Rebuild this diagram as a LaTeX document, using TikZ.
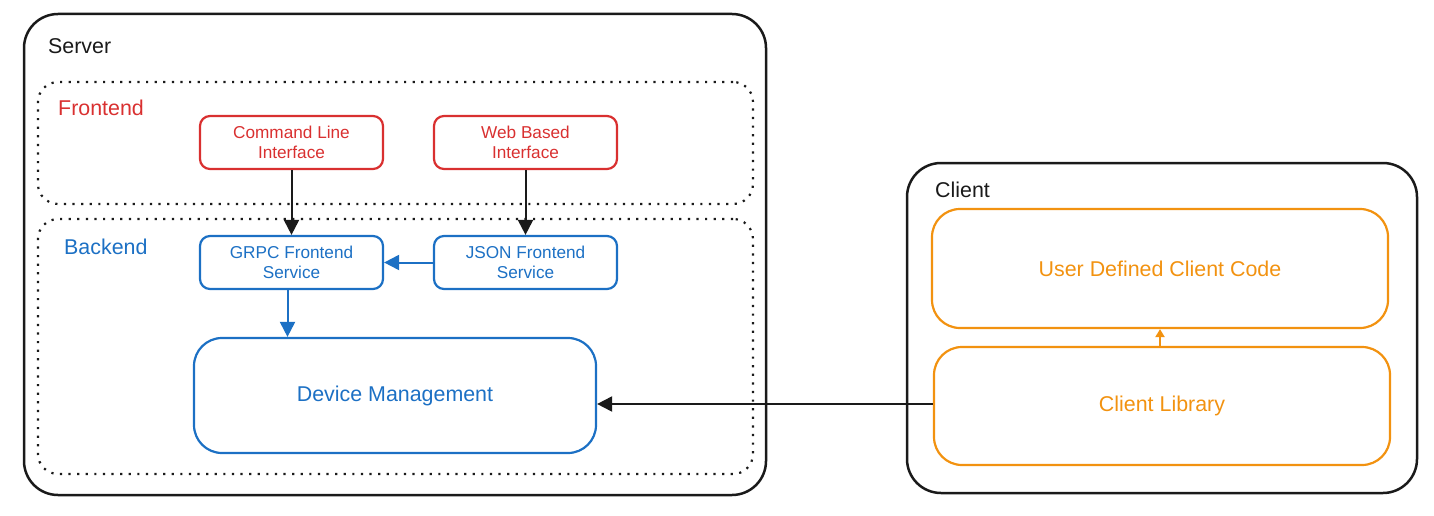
\documentclass[tikz,border=0pt]{standalone}
\usepackage{fontspec}
\setmainfont{Liberation Sans}
\definecolor{srvblack}{RGB}{26, 26, 26}
\definecolor{frontred}{RGB}{217, 48, 48}
\definecolor{backblue}{RGB}{28, 112, 196}
\definecolor{clientorange}{RGB}{242, 146, 16}
\usetikzlibrary{
    arrows.meta,
    positioning,
    calc
}
\tikzset{
    container/.style={draw=srvblack, line width=2.5pt, rounded corners=34pt, inner sep=0pt},
    layer/.style={draw=srvblack, line width=2.2pt, dash pattern=on 2.2pt off 6.4pt, rounded corners=20pt, inner sep=0pt},
    smallbox/.style={line width=2.2pt, rounded corners=10pt, minimum width=183pt, minimum height=53pt,
        inner sep=0pt, align=center, font=\fontsize{17.2}{20}\selectfont},
    bigbox/.style={line width=2.2pt, rounded corners=28pt, inner sep=0pt, font=\fontsize{21.4}{25}\selectfont},
    title/.style={anchor=west, inner sep=0pt, font=\fontsize{21.4}{25}\selectfont},
    link/.style={line width=2pt, -{Triangle[length=15pt, width=15pt]}}
}

\begin{document}
\begin{tikzpicture}[x=1pt, y=-1pt]
    \useasboundingbox (0,0) rectangle (1434,516);

    % Server side
    \node[container, minimum width=742pt, minimum height=481pt] (server) at (395,254.5) {};
    \node[title, text=srvblack] (serverlabel) at (48,46) {Server};
    \node[layer, minimum width=715pt, minimum height=122pt] (frontend) at (395.5,143) {};
    \node[layer, minimum width=715pt, minimum height=255pt] (backend) at (395.5,346.5) {};
    \node[title, text=frontred] (frontendlabel) at (58,108) {Frontend};
    \node[title, text=backblue] (backendlabel) at (64,247) {Backend};

    % Frontend
    \node[smallbox, draw=frontred, text=frontred] (cli) at (291.5,142.5) {Command Line\\Interface};
    \node[smallbox, draw=frontred, text=frontred] (web) at (525.5,142.5) {Web Based\\Interface};

    % Backend
    \node[smallbox, draw=backblue, text=backblue] (grpc) at (291.5,262.5) {GRPC Frontend\\Service};
    \node[smallbox, draw=backblue, text=backblue] (json) at (525.5,262.5) {JSON Frontend\\Service};
    \node[bigbox, draw=backblue, text=backblue, minimum width=402pt, minimum height=115pt] (dm) at (395,395.5) {Device Management};
    \coordinate (grpcout) at ($(grpc.south)+(-4,0)$);

    % Client side
    \node[container, minimum width=510pt, minimum height=330pt] (client) at (1162,328) {};
    \node[title, text=srvblack] (clientlabel) at (935,190) {Client};
    \node[bigbox, draw=clientorange, text=clientorange, minimum width=456pt, minimum height=119pt] (userdef) at (1160,268.5) {User Defined Client Code};
    \node[bigbox, draw=clientorange, text=clientorange, minimum width=456pt, minimum height=118pt] (lib) at (1162,406) {Client Library};
    \coordinate (libout) at ($(lib.west)+(0,-2)$);

    % Connections
    \draw[link, srvblack] (cli) -- (grpc);
    \draw[link, srvblack] (web) -- (json);
    \draw[link, backblue] (json) -- (grpc);
    \draw[link, backblue] (grpcout) -- (grpcout |- dm.north);
    \draw[link, srvblack] (libout) -- (libout -| dm.east);
    \draw[line width=2pt, clientorange, -{Triangle[length=8pt, width=9pt]}] (lib.north -| userdef.south) -- (userdef.south);
\end{tikzpicture}
\end{document}
